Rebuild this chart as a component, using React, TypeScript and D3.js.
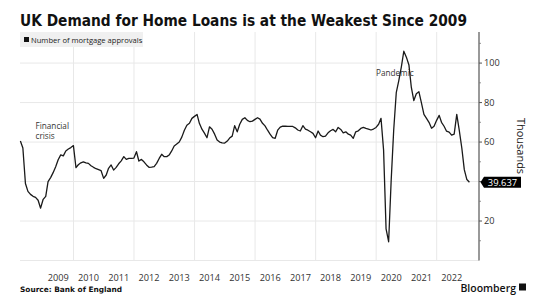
import React from "react";
import * as d3 from "d3";

// Monthly mortgage approvals (thousands), Mar 2008 .. Jan 2023
const startYear = 2008;
const startMonth = 3; // March
const approvals: number[] = [
  60.5, 57, 39, 35, 33.5, 32.5, 32, 30.5, 26.5, 31,
  32.5, 40, 42, 44.5, 47.5, 51, 53.5, 53, 55.5, 56.5,
  57.2, 58.2, 47, 48.5, 49.5, 50, 49.5, 49.2, 48, 47.2,
  46.5, 46, 45.5, 41.6, 43.3, 46.7, 48.4, 45.8, 47.2, 49,
  50.5, 52.6, 51.2, 51.7, 51.7, 51.9, 55.1, 50.4, 51.2, 50,
  48.4, 47.2, 47.3, 47.5, 49.2, 51.7, 53.8, 52.6, 52.6, 53.4,
  55.5, 58, 59, 60, 62.5, 66, 68.5, 69.5, 72, 73,
  74, 69.5, 66.5, 64.5, 62.2, 67.7, 66.5, 64, 61, 60,
  59.6, 59.5, 60.5, 62, 63, 68.3, 65.2, 69, 71.5, 72.3,
  71, 70.3, 70.6, 71.5, 72.3, 71.6, 69.5, 68.2, 66, 64,
  62.2, 61.9, 66, 67.6, 68.1, 68, 67.9, 67.9, 67.9, 67.2,
  66.1, 65.6, 68.3, 66.5, 66, 65.2, 64.4, 62.2, 65.6, 63.5,
  62.7, 63, 64.7, 65.7, 66.4, 65.2, 67.4, 66.4, 64.7, 65.2,
  64, 63.5, 61.9, 65.2, 65.7, 66.9, 67.4, 66.9, 66.6, 66.1,
  66.6, 67.4, 69, 72, 56, 16, 9.5, 40, 66, 85,
  91, 98, 106, 103, 99, 88, 81, 84.5, 85.5, 80,
  74, 72, 70, 67, 68, 71, 73.5, 70, 68, 65.5,
  65, 63.5, 64, 74, 66, 57, 46, 41, 39.637,
];
const yearLabels: number[] = [2009, 2010, 2011, 2012, 2013, 2014, 2015, 2016, 2017, 2018, 2019, 2020, 2021, 2022];
const gridYears: number[] = [2010, 2012, 2014, 2016, 2018, 2020, 2022];
const yTicks: number[] = [20, 40, 60, 80, 100];
const yTickLabels: number[] = [20, 60, 80, 100]; // 40 hidden behind last-value tag
const yMinorTicks: number[] = [10, 30, 50, 70, 90, 110];
const lastLabel = "39.637";

const W = 540;
const H = 305;
const plotLeft = 20;
const plotRight = 479;
const plotTop = 32;
const plotBottom = 260.5;

export default function App() {
  const dates = approvals.map((_, i) => new Date(startYear, startMonth + i, 0));
  const x = d3
    .scaleTime()
    .domain([new Date(2010, 0, 1), new Date(2022, 0, 1)])
    .range([73.5, 436.7]);
  const y = d3.scaleLinear().domain([0, 116]).range([plotBottom, plotTop - 0.5]);

  const line = d3
    .line<number>()
    .x((_, i) => x(dates[i]))
    .y((d) => y(d));

  const lastY = y(approvals[approvals.length - 1]);
  const font = "'Open Sans', 'Noto Sans', sans-serif";

  return (
    <svg width={W} height={H} style={{ display: "block", position: "absolute", left: 0, top: 0, background: "#fff" }}>
      <rect x={0} y={0} width={W} height={H} fill="#fff" />
      <text
        x={20}
        y={26}
        fontFamily="'DejaVu Sans', sans-serif"
        fontWeight="bold"
        fontSize={15.5}
        textLength={447}
        lengthAdjust="spacingAndGlyphs"
        fill="#111"
      >
        UK Demand for Home Loans is at the Weakest Since 2009
      </text>

      {/* gridlines */}
      {yTicks.map((t) => (
        <line key={"h" + t} x1={plotLeft} x2={plotRight} y1={y(t)} y2={y(t)} stroke="#e8e8e8" strokeWidth={1} />
      ))}
      <line x1={plotLeft} x2={plotRight} y1={plotBottom} y2={plotBottom} stroke="#e8e8e8" strokeWidth={1} />
      {gridYears.map((yr) => (
        <line
          key={"v" + yr}
          x1={x(new Date(yr, 0, 1))}
          x2={x(new Date(yr, 0, 1))}
          y1={plotTop}
          y2={plotBottom}
          stroke="#e8e8e8"
          strokeWidth={1}
        />
      ))}

      {/* legend */}
      <rect x={20} y={32} width={123} height={15} fill="#f0f0f0" />
      <rect x={24} y={37} width={5} height={5} fill="#111" />
      <text x={31} y={42.5} fontFamily={font} fontSize={7.6} fill="#222">
        Number of mortgage approvals
      </text>

      {/* right axis */}
      <line x1={plotRight} x2={plotRight} y1={plotTop} y2={plotBottom} stroke="#555" strokeWidth={1.2} />
      {yTicks.map((t) => (
        <line key={"t" + t} x1={plotRight} x2={plotRight + 3} y1={y(t)} y2={y(t)} stroke="#555" strokeWidth={1} />
      ))}
      {yTickLabels.map((t) => (
        <text key={"tl" + t} x={plotRight + 5} y={y(t) + 3.3} fontFamily={font} fontSize={9.2} fill="#333">
          {t}
        </text>
      ))}
      {yMinorTicks.map((t) => (
        <line key={"m" + t} x1={plotRight} x2={plotRight + 2} y1={y(t)} y2={y(t)} stroke="#777" strokeWidth={0.8} />
      ))}
      <text
        transform={`translate(${517},${146}) rotate(90)`}
        textAnchor="middle"
        fontFamily={font}
        fontSize={11}
        fill="#222"
      >
        Thousands
      </text>

      {/* x labels */}
      {yearLabels.map((yr) => (
        <text
          key={"x" + yr}
          x={x(new Date(yr, 6, 1))}
          y={281}
          textAnchor="middle"
          fontFamily={font}
          fontSize={9.2}
          fill="#333"
        >
          {yr}
        </text>
      ))}

      {/* annotations */}
      <text x={35.5} y={129} fontFamily={font} fontSize={8.2} fill="#333">
        Financial
      </text>
      <text x={35.5} y={138.5} fontFamily={font} fontSize={8.2} fill="#333">
        crisis
      </text>
      <text x={376} y={76} fontFamily={font} fontSize={8.2} fill="#333">
        Pandemic
      </text>

      {/* line */}
      <path d={line(approvals) || ""} fill="none" stroke="#1a1a1a" strokeWidth={1.3} strokeLinejoin="round" />

      {/* last value label */}
      <path
        d={`M${plotRight + 1.5},${lastY} L${plotRight + 5},${lastY - 5.5} L${plotRight + 42},${lastY - 5.5} L${plotRight + 42},${lastY + 5.5} L${plotRight + 5},${lastY + 5.5} Z`}
        fill="#000"
      />
      <text x={plotRight + 23.5} y={lastY + 3.4} textAnchor="middle" fontFamily={font} fontSize={9.4} fill="#fff">
        {lastLabel}
      </text>

      {/* footer */}
      <text x={20} y={292} fontFamily="'DejaVu Sans', sans-serif" fontWeight="bold" fontSize={7.4} fill="#111">
        Source: Bank of England
      </text>
      <text
        x={516}
        y={292}
        textAnchor="end"
        fontFamily="'Open Sans', sans-serif"
        fontWeight="600"
        fontSize={10.5}
        fill="#111"
      >
        Bloomberg
      </text>
      <rect x={519} y={283.5} width={7} height={7} fill="#111" />
    </svg>
  );
}
